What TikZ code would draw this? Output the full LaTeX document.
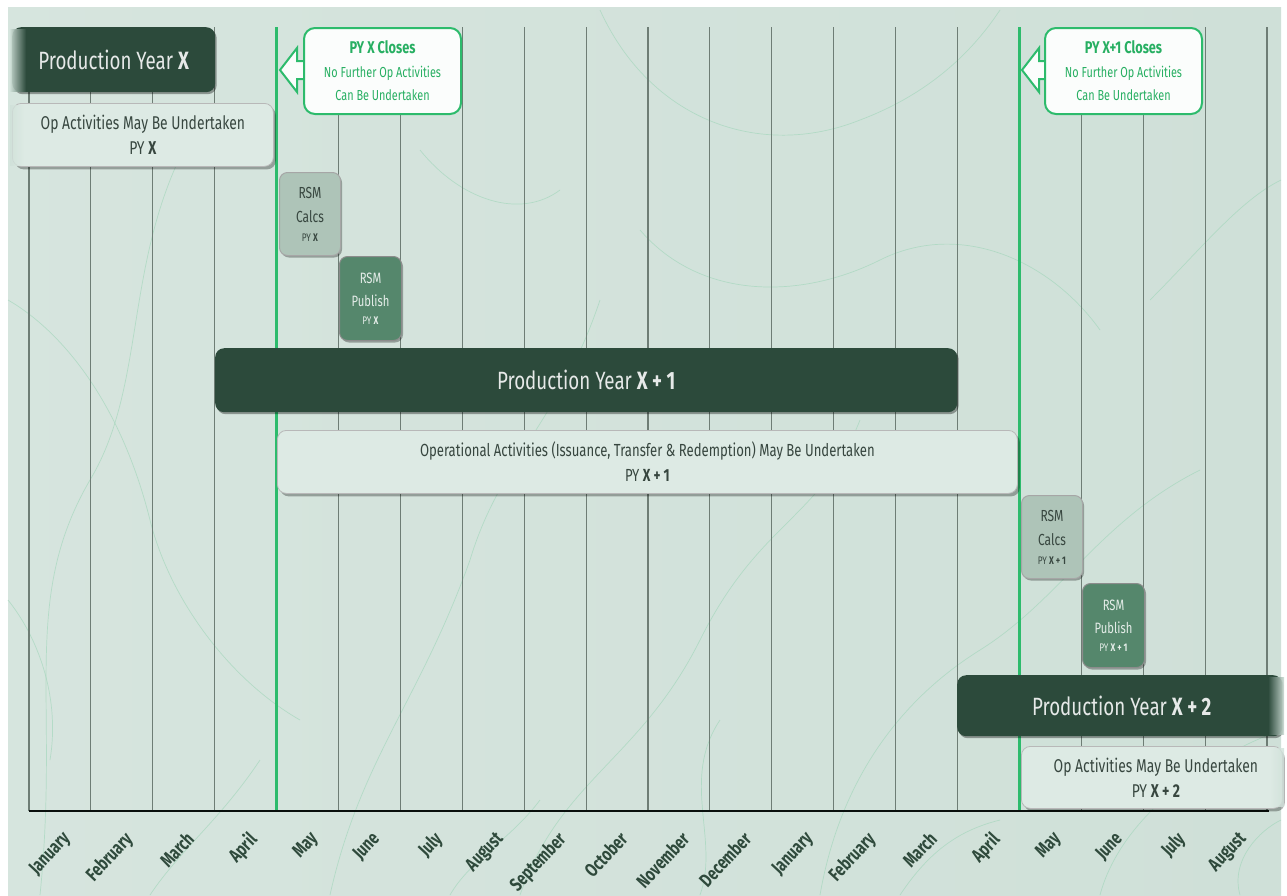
\documentclass[tikz,border=0pt]{standalone}
\usepackage{fontspec}
\setmainfont{Fira Sans}[FakeStretch=0.75]
\usetikzlibrary{shadows,calc}
\definecolor{bgc}{HTML}{CFE0D8}
\definecolor{gridc}{HTML}{6E7D75}
\definecolor{greenc}{HTML}{2DBB6C}
\definecolor{darkc}{HTML}{2C4A3B}
\definecolor{lightc}{HTML}{DDEAE4}
\definecolor{lighttext}{HTML}{37463F}
\definecolor{calcc}{HTML}{AEC4B8}
\definecolor{pubc}{HTML}{55876C}
\definecolor{callc}{HTML}{27AF62}
\definecolor{monthc}{HTML}{2F4A3C}
\tikzset{
  gridline/.style={draw=gridc, line width=1.1pt},
  greenline/.style={draw=greenc, line width=3pt},
  darkbox/.style={fill=darkc, rounded corners=9pt, text=white!88!darkc, anchor=north west,
    font=\fontsize{25}{28}\selectfont, inner sep=0pt,
    drop shadow={shadow xshift=1.5pt, shadow yshift=-2pt, fill=black, opacity=.35}},
  lightbox/.style={fill=lightc, draw=black!28, line width=0.8pt, rounded corners=9pt, text=lighttext, anchor=north west,
    font=\fontsize{18.5}{25}\selectfont, align=center, inner sep=0pt,
    drop shadow={shadow xshift=2.5pt, shadow yshift=-3pt, fill=black, opacity=.3}},
  calcbox/.style={fill=calcc, draw=black!35, line width=1pt, rounded corners=8pt, text=lighttext, anchor=north west,
    font=\fontsize{16}{24}\selectfont, align=center, inner sep=0pt, minimum width=61pt, minimum height=83pt,
    drop shadow={shadow xshift=1.5pt, shadow yshift=-2pt, fill=black, opacity=.3}},
  pubbox/.style={fill=pubc, draw=black!45, line width=1pt, rounded corners=8pt, text=white!85!pubc, anchor=north west,
    font=\fontsize{15}{23}\selectfont, align=center, inner sep=0pt, minimum width=62pt, minimum height=84pt,
    drop shadow={shadow xshift=1.5pt, shadow yshift=-2pt, fill=black, opacity=.3}},
  callbox/.style={fill=white!92!bgc, draw=greenc, line width=2pt, rounded corners=11pt, text=callc, anchor=north west,
    font=\fontsize{14.5}{23.5}\selectfont, align=center, inner sep=0pt, minimum width=157pt, minimum height=86pt},
  callarrow/.style={fill=white!92!bgc, draw=greenc, line width=2pt, line join=miter},
  monthlbl/.style={anchor=north east, rotate=47, text=monthc, font=\fontsize{19}{20}\selectfont\bfseries, inner sep=0pt}
}
\begin{document}
\begin{tikzpicture}[x=1pt,y=-1pt]
\useasboundingbox (0,0) rectangle (1287,895);
\fill[white] (0,0) rectangle (1287,895);
\shade[left color=bgc!85!white, right color=bgc] (8,7) rectangle (1281,895);
% faint contour texture
\begin{scope}[draw=greenc!30!bgc, line width=0.7pt, opacity=0.6]
  \draw (40,895) .. controls (60,700) and (20,600) .. (90,480) .. controls (150,380) and (120,250) .. (200,120);
  \draw (330,895) .. controls (360,760) and (420,700) .. (470,560) .. controls (500,460) and (560,420) .. (600,300);
  \draw (520,895) .. controls (560,780) and (640,760) .. (700,640) .. controls (760,520) and (820,520) .. (860,420);
  \draw (820,895) .. controls (840,780) and (900,700) .. (980,650) .. controls (1060,600) and (1100,520) .. (1200,470);
  \draw (1100,895) .. controls (1120,820) and (1200,760) .. (1281,730);
  \draw (600,10) .. controls (650,120) and (760,160) .. (860,120) .. controls (940,90) and (980,40) .. (1000,10);
  \draw (640,230) .. controls (700,300) and (800,300) .. (880,260) .. controls (960,220) and (1050,260) .. (1100,330);
  \draw (8,300) .. controls (60,330) and (120,400) .. (150,520) .. controls (170,600) and (230,680) .. (300,720);
  \draw (1150,300) .. controls (1200,250) and (1240,200) .. (1281,180);
  \draw (420,150) .. controls (460,200) and (520,220) .. (560,190);
  \draw (700,895) .. controls (720,840) and (680,780) .. (720,720);
  \draw (150,895) .. controls (180,850) and (220,820) .. (260,760);
  \draw (1240,895) .. controls (1230,860) and (1260,830) .. (1281,820);
  \draw (8,600) .. controls (40,640) and (60,700) .. (50,760);
  \draw (900,895) .. controls (930,850) and (960,830) .. (1000,820);
  \draw (450,895) .. controls (470,860) and (510,840) .. (540,800);
\end{scope}
% grid
\foreach \i in {0,...,20} {
  \draw[gridline] ({29+61.9*\i},27) -- ({29+61.9*\i},811);
}
\draw[greenline] ({29+61.9*4},27) -- ({29+61.9*4},811);
\draw[greenline] ({29+61.9*16},27) -- ({29+61.9*16},811);
\draw[draw=black!80!darkc, line width=1.5pt] (29,811) -- (1269,811);
\coordinate (tipA) at (280,70);
\coordinate (tipB) at (1022,70);
% months
\foreach \n [count=\i from 0] in {January,February,March,April,May,June,July,August,September,October,November,December,January,February,March,April,May,June,July,August} {
  \node[monthlbl] (m\i) at ({29+61.9*\i+32},830) {\n};
}
% callout arrows
\draw[callarrow] (306,61) -- (297,61) -- (297,48) -- (tipA) -- (297,92) -- (297,79) -- (306,79);
\draw[callarrow] (1048,61) -- (1039,61) -- (1039,48) -- (tipB) -- (1039,92) -- (1039,79) -- (1048,79);
% callouts
\node[callbox] (c1) at (303,27) {{\fontsize{17}{23.5}\selectfont\bfseries PY X Closes}\\No Further Op Activities\\Can Be Undertaken};
\node[callbox] (c2) at (1044,27) {{\fontsize{17}{23.5}\selectfont\bfseries PY X+1 Closes}\\No Further Op Activities\\Can Be Undertaken};
% production year boxes
\node[darkbox, minimum width=203pt, minimum height=65pt] (py0) at (12,27) {Production Year \textbf{X}};
\shade[left color=bgc, right color=darkc, opacity=0.9] (10,29) rectangle (26,91);
\node[lightbox, minimum width=261pt, minimum height=63pt] (op0) at (12,103) {Op Activities May Be Undertaken\\PY \textbf{X}};
\shade[left color=bgc, right color=lightc, opacity=0.8] (10,105) rectangle (24,165);
\node[calcbox] (rc0) at (279,172) {RSM\\Calcs\\[-5pt]{\fontsize{11}{12}\selectfont PY \textbf{X}}};
\node[pubbox] (rp0) at (339,256) {RSM\\Publish\\[-5pt]{\fontsize{11}{12}\selectfont PY \textbf{X}}};
\node[darkbox, minimum width=742pt, minimum height=64pt] (py1) at (215,348) {Production Year \textbf{X + 1}};
\node[lightbox, minimum width=740pt, minimum height=63pt, font=\fontsize{17.5}{25}\selectfont] (op1) at (277,430) {Operational Activities (Issuance, Transfer \& Redemption) May Be Undertaken\\PY \textbf{X + 1}};
\node[calcbox] (rc1) at (1021,495) {RSM\\Calcs\\[-5pt]{\fontsize{11}{12}\selectfont PY \textbf{X + 1}}};
\node[pubbox] (rp1) at (1082,583) {RSM\\Publish\\[-5pt]{\fontsize{11}{12}\selectfont PY \textbf{X + 1}}};
\node[darkbox, minimum width=325pt, minimum height=61pt] (py2) at (957,675) {\hspace{4pt}Production Year \textbf{X + 2}};
\shade[left color=darkc, right color=bgc, opacity=0.9] (1268,677) rectangle (1284,734);
\node[lightbox, minimum width=261pt, minimum height=62pt] (op2) at (1021,746) {\hspace{8pt}Op Activities May Be Undertaken\\\hspace{8pt}PY \textbf{X + 2}};
\shade[left color=lightc, right color=bgc, opacity=0.8] (1270,748) rectangle (1284,806);
\end{tikzpicture}
\end{document}
